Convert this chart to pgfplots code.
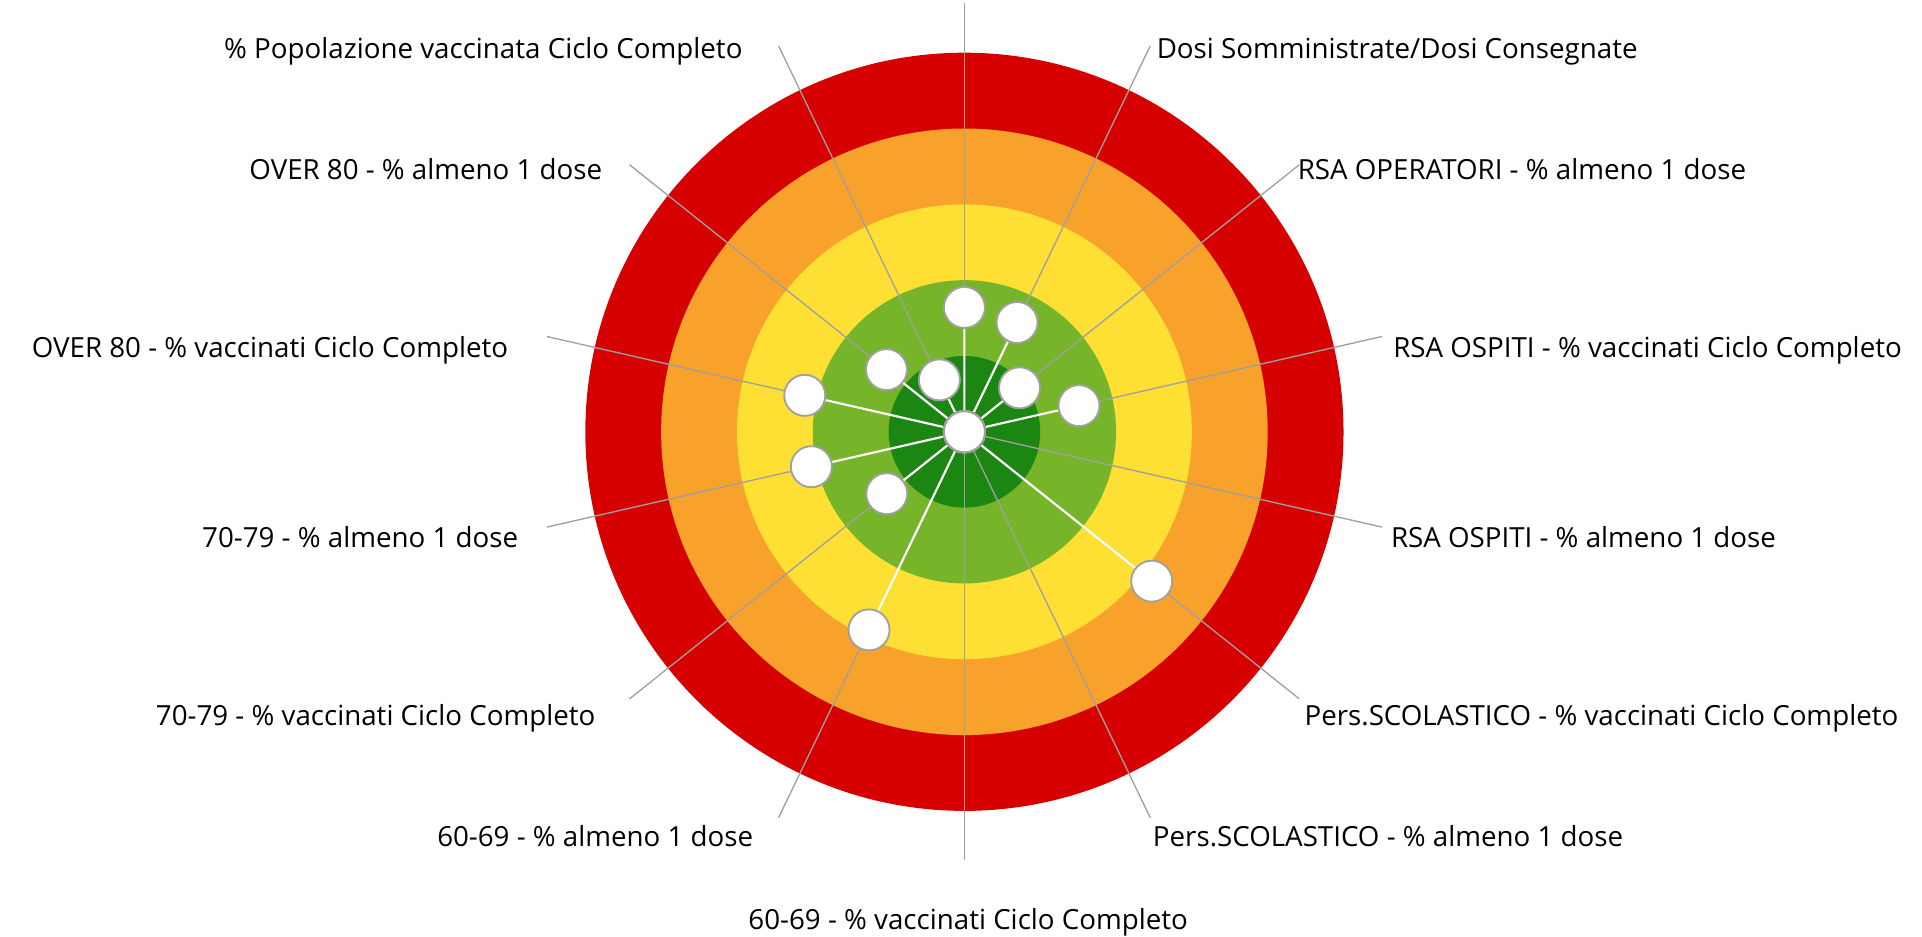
\documentclass[border=0pt]{standalone}
\usepackage{fontspec}
\setmainfont{Open Sans}
\usepackage{pgfplots}
\pgfplotsset{compat=1.18}

\definecolor{lvred}{HTML}{D70000}
\definecolor{lvorange}{HTML}{F8A22C}
\definecolor{lvyellow}{HTML}{FEE034}
\definecolor{lvlgreen}{HTML}{76B52A}
\definecolor{lvdgreen}{HTML}{1C8613}
\definecolor{spokegray}{HTML}{A0A0A0}

\begin{document}
\begin{tikzpicture}[lbl/.style={font=\fontsize{10.4}{12}\selectfont, inner sep=0pt}]
  \begin{axis}[
      x=1cm, y=1cm, hide axis, clip=false,
      xmin=-12.72, xmax=12.63, ymin=-6.653, ymax=5.695,
      spoke/.style={spokegray, line width=0.5pt, data cs=polar, mark=none},
    ]
    % rings (1 unit each)
    \fill[lvred]    (axis cs:0,0) circle[radius=5];
    \fill[lvorange] (axis cs:0,0) circle[radius=4];
    \fill[lvyellow] (axis cs:0,0) circle[radius=3];
    \fill[lvlgreen] (axis cs:0,0) circle[radius=2];
    \fill[lvdgreen] (axis cs:0,0) circle[radius=1];

    % 14 spokes, drawn as 7 diameters
    \addplot[spoke] coordinates {(90,5.65) (-90,5.65)};
    \addplot[spoke] coordinates {(64.286,5.65) (-115.714,5.65)};
    \addplot[spoke] coordinates {(38.571,5.65) (-141.429,5.65)};
    \addplot[spoke] coordinates {(12.857,5.65) (-167.143,5.65)};
    \addplot[spoke] coordinates {(-12.857,5.65) (167.143,5.65)};
    \addplot[spoke] coordinates {(-38.571,5.65) (141.429,5.65)};
    \addplot[spoke] coordinates {(-64.286,5.65) (115.714,5.65)};

    % values: angle (clockwise from top) and radius
    \addplot[white, line width=0.8pt, data cs=polar,
      mark=*, mark size=7.7pt,
      mark options={fill=white, draw=spokegray, line width=0.7pt}]
      coordinates {
        (90,1.64) (0,0)
        (64.286,1.60) (0,0)
        (38.571,0.93) (0,0)
        (12.857,1.55) (0,0)
        (-12.857,0) (0,0)
        (-38.571,3.16) (0,0)
        (-64.286,0) (0,0)
        (-90,0) (0,0)
        (-115.714,2.90) (0,0)
        (-141.429,1.31) (0,0)
        (-167.143,2.07) (0,0)
        (167.143,2.16) (0,0)
        (141.429,1.315) (0,0)
        (115.714,0.76) (0,0)
      };

    % category labels
    \node[lbl, anchor=base east] at (axis cs:-2.92,4.93) {\% Popolazione vaccinata Ciclo Completo};
    \node[lbl, anchor=base west] at (axis cs:2.53,4.93) {Dosi Somministrate/Dosi Consegnate};
    \node[lbl, anchor=base east] at (axis cs:-4.77,3.33) {OVER 80 - \% almeno 1 dose};
    \node[lbl, anchor=base west] at (axis cs:4.39,3.33) {RSA OPERATORI - \% almeno 1 dose};
    \node[lbl, anchor=base east] at (axis cs:-6.01,0.985) {OVER 80 - \% vaccinati Ciclo Completo};
    \node[lbl, anchor=base west] at (axis cs:5.65,0.985) {RSA OSPITI - \% vaccinati Ciclo Completo};
    \node[lbl, anchor=base east] at (axis cs:-5.88,-1.52) {70-79 - \% almeno 1 dose};
    \node[lbl, anchor=base west] at (axis cs:5.62,-1.52) {RSA OSPITI - \% almeno 1 dose};
    \node[lbl, anchor=base east] at (axis cs:-4.86,-3.87) {70-79 - \% vaccinati Ciclo Completo};
    \node[lbl, anchor=base west] at (axis cs:4.48,-3.87) {Pers.SCOLASTICO - \% vaccinati Ciclo Completo};
    \node[lbl, anchor=base east] at (axis cs:-2.78,-5.47) {60-69 - \% almeno 1 dose};
    \node[lbl, anchor=base west] at (axis cs:2.48,-5.47) {Pers.SCOLASTICO - \% almeno 1 dose};
    \node[lbl, anchor=base] at (axis cs:0.05,-6.57) {60-69 - \% vaccinati Ciclo Completo};

    \coordinate (bbsw) at (axis cs:-12.72,-6.653);
    \coordinate (bbne) at (axis cs:12.63,5.695);
  \end{axis}
  \pgfresetboundingbox
  \useasboundingbox (bbsw) rectangle (bbne);
\end{tikzpicture}
\end{document}
